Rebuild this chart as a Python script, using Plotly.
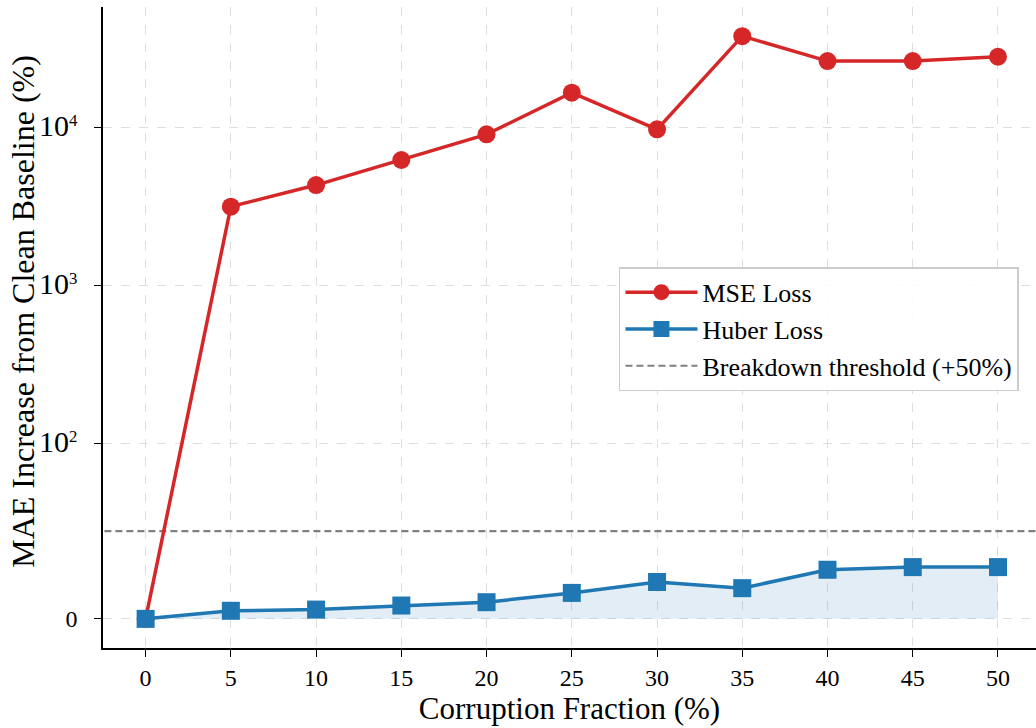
import math
import plotly.graph_objects as go

# Corruption fraction (%) and MAE increase over the clean baseline (%)
corruption = [0, 5, 10, 15, 20, 25, 30, 35, 40, 45, 50]
mse_increase = [0, 3160, 4330, 6240, 9070, 16660, 9760, 38000, 26400, 26400, 28130]
huber_increase = [0, 4.6, 5.3, 7.6, 9.5, 14.8, 21.0, 17.5, 28.0, 29.5, 29.5]
threshold = 50

y_tick_values = [0, 100, 1000, 10000]
y_tick_labels = [
    "0",
    '<span style="font-size:30px">10</span><sup>2</sup>',
    '<span style="font-size:30px">10</span><sup>3</sup>',
    '<span style="font-size:30px">10</span><sup>4</sup>',
]
x_ticks = [0, 5, 10, 15, 20, 25, 30, 35, 40, 45, 50]

# Symmetric-log scale: linear below LINTHRESH, logarithmic above (units of decades)
LINTHRESH = 100.0
LINSCALE = 1.0 / (1.0 - 1.0 / 10.0)


def symlog(v):
    a = abs(v)
    if a <= LINTHRESH:
        t = a / LINTHRESH * LINSCALE
    else:
        t = LINSCALE + math.log10(a / LINTHRESH)
    return math.copysign(t, v)


RED = "#d62728"
BLUE = "#1f77b4"
FONT = "Liberation Serif"

fig = go.Figure()

# Shaded area under the Huber curve
fig.add_trace(go.Scatter(
    x=corruption, y=[symlog(v) for v in huber_increase],
    mode="lines", line=dict(width=0), fill="tozeroy",
    fillcolor="rgba(31,119,180,0.13)", showlegend=False, hoverinfo="skip",
))

# Breakdown threshold
fig.add_trace(go.Scatter(
    x=[-5, 60], y=[symlog(threshold)] * 2, mode="lines",
    line=dict(color="#808080", width=2.2, dash="7px,4px"),
    name="Breakdown threshold (+50%)", legendrank=3,
))

fig.add_trace(go.Scatter(
    x=corruption, y=[symlog(v) for v in mse_increase],
    mode="lines+markers", line=dict(color=RED, width=3.5),
    marker=dict(symbol="circle", size=18, color=RED),
    name="MSE Loss", legendrank=1,
))

fig.add_trace(go.Scatter(
    x=corruption, y=[symlog(v) for v in huber_increase],
    mode="lines+markers", line=dict(color=BLUE, width=3.5),
    marker=dict(symbol="square", size=18, color=BLUE),
    name="Huber Loss", legendrank=2,
))

y_top = symlog(max(mse_increase))
pad = 0.05 * y_top

fig.update_layout(
    width=1036, height=728,
    margin=dict(l=103, r=0, t=7, b=80),
    paper_bgcolor="white", plot_bgcolor="white",
    font=dict(family=FONT, size=24, color="black"),
    showlegend=True,
    legend=dict(
        x=0.553, y=0.594, xanchor="left", yanchor="top",
        bgcolor="rgba(255,255,255,0.9)", bordercolor="#cccccc", borderwidth=1.5,
        font=dict(family=FONT, size=26),
        itemwidth=72,
    ),
    xaxis=dict(
        range=[-2.5, 52.23], tickvals=x_ticks,
        showgrid=True, gridcolor="#dedede", griddash="dash", gridwidth=1,
        showline=True, linecolor="black", linewidth=1.6,
        ticks="outside", ticklen=7, tickwidth=1.4, tickcolor="black",
        tickfont=dict(size=24), zeroline=False,
        title=dict(text="Corruption Fraction (%)", font=dict(size=31), standoff=8),
    ),
    yaxis=dict(
        range=[-pad, y_top + pad],
        tickvals=[symlog(v) for v in y_tick_values], ticktext=y_tick_labels,
        showgrid=True, gridcolor="#dedede", griddash="dash", gridwidth=1,
        showline=True, linecolor="black", linewidth=1.6,
        ticks="outside", ticklen=7, tickwidth=1.4, tickcolor="black",
        tickfont=dict(size=24), zeroline=False, ticklabelstandoff=12,
    ),
    annotations=[dict(
        text="MAE Increase from Clean Baseline (%)",
        xref="paper", yref="paper", x=-0.0858, y=0.526,
        xanchor="center", yanchor="middle", textangle=-90,
        showarrow=False, font=dict(family=FONT, size=32),
    )],
)

fig.write_html("out.html")
